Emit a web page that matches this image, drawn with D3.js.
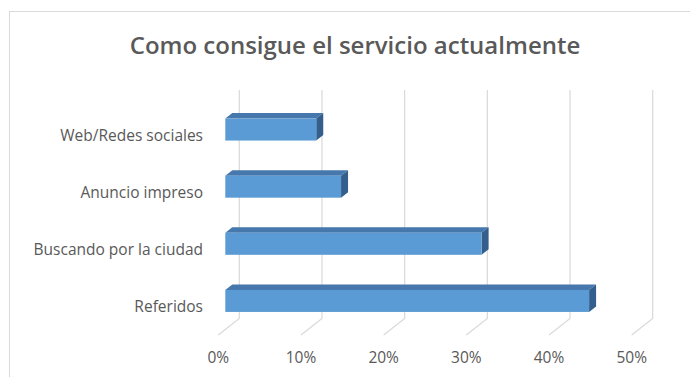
<!DOCTYPE html>
<html>
<head>
<meta charset="utf-8">
<script src="https://cdn.jsdelivr.net/npm/d3@7"></script>
<style>
  html, body { margin: 0; padding: 0; background: #fff; }
  svg { display: block; }
  text { font-family: "Open Sans", "Noto Sans", sans-serif; fill: #595959; }
</style>
</head>
<body>
<svg id="chart" width="690" height="377"></svg>
<script>
// Data
const title = "Como consigue el servicio actualmente";
const categories = ["Web/Redes sociales", "Anuncio impreso", "Buscando por la ciudad", "Referidos"];
const values = [11, 14, 31, 44];
const tickValues = [0, 10, 20, 30, 40, 50];

const svg = d3.select("#chart");
const W = 690, H = 377;

// Chart area frame (extends past the right and bottom edges)
svg.append("rect")
  .attr("x", 9.5).attr("y", 11.5)
  .attr("width", W + 20).attr("height", H + 20)
  .attr("fill", "#fff").attr("stroke", "#d9d9d9").attr("stroke-width", 1);

// Title
svg.append("text")
  .attr("x", 355).attr("y", 54)
  .attr("text-anchor", "middle")
  .style("font-size", "24px").style("font-weight", 600)
  .text(title);

// Front-plane scales; the 3D depth is an oblique offset
const x = d3.scaleLinear().domain([0, 50]).range([218.3, 631.7]);
const y = d3.scaleBand().domain(categories).range([106.5, 335])
  .paddingInner(0.615).paddingOuter(0.3075);
const depth = [21, -16.5];
const proj = (v, py, d) => [x(v) + d * depth[0], py + d * depth[1]];

const floorY = 335;
const wallTop = 106.5;

// Back wall gridlines and floor lines
const grid = svg.append("g").attr("stroke", "#d9d9d9").attr("stroke-width", 1.2).attr("fill", "none");
tickValues.forEach(t => {
  const top = proj(t, wallTop, 1), bottom = proj(t, floorY, 1), front = proj(t, floorY, 0);
  grid.append("path").attr("d", d3.line()([top, bottom, front]));
});

// Tick labels along the front edge of the floor
svg.append("g").selectAll("text").data(tickValues).join("text")
  .attr("x", d => x(d)).attr("y", 357)
  .attr("text-anchor", "middle").attr("dominant-baseline", "central")
  .style("font-size", "15.5px")
  .text(d => d + "%");

// Category labels
svg.append("g").selectAll("text").data(categories).join("text")
  .attr("x", 203).attr("y", d => y(d) + y.bandwidth() / 2)
  .attr("text-anchor", "end").attr("dominant-baseline", "central")
  .style("font-size", "15.5px")
  .text(d => d);

// 3D bars: box between depth 1/3 and 2/3
const d0 = 1 / 3, d1 = 2 / 3;
const bars = svg.append("g");
categories.forEach((c, i) => {
  const v = values[i];
  const top = y(c), bot = y(c) + y.bandwidth();
  const poly = pts => "M" + pts.map(p => p.join(",")).join("L") + "Z";
  // top face
  bars.append("path")
    .attr("d", poly([proj(0, top, d0), proj(v, top, d0), proj(v, top, d1), proj(0, top, d1)]))
    .attr("fill", "#4677ad");
  // end face
  bars.append("path")
    .attr("d", poly([proj(v, top, d0), proj(v, top, d1), proj(v, bot, d1), proj(v, bot, d0)]))
    .attr("fill", "#345f8c");
  // front face
  const a = proj(0, top, d0), b = proj(v, bot, d0);
  bars.append("rect")
    .attr("x", a[0]).attr("y", a[1])
    .attr("width", b[0] - a[0]).attr("height", b[1] - a[1])
    .attr("fill", "#5b9bd5");
});
</script>
</body>
</html>
